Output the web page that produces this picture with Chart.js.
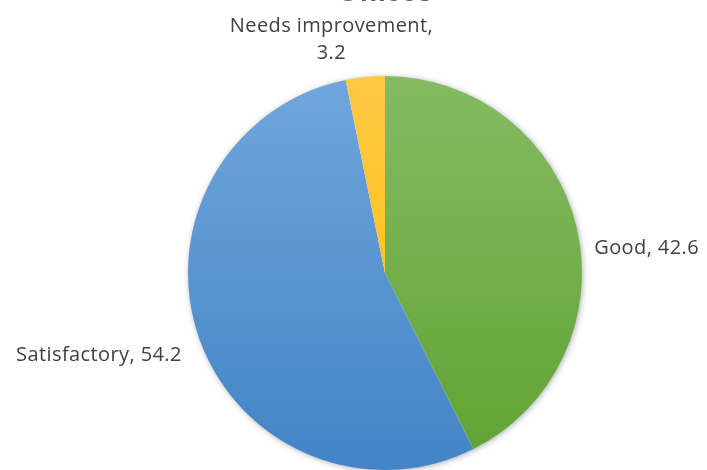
<!DOCTYPE html>
<html>
<head>
<meta charset="utf-8">
<script src="https://cdn.jsdelivr.net/npm/chart.js@4.4.1/dist/chart.umd.min.js"></script>
<style>
    html, body { margin: 0; padding: 0; background: #ffffff; overflow: hidden; }
    #wrap { position: relative; width: 707px; height: 470px; }
</style>
</head>
<body>
<div id="wrap"><canvas id="pieChart" width="707" height="470"></canvas></div>
<script>
// 数据
const categories = ['Good', 'Satisfactory', 'Needs improvement'];
const values = [42.6, 54.2, 3.2];
const chartTitle = 'Offices';

// 颜色（上 -> 下渐变）
const topColors = ['#84bb63', '#70a6dc', '#ffc845'];
const bottomColors = ['#62a232', '#4284c6', '#ffbf00'];

// 标签位置微调 (dx, dy)
const labelNudge = [[0, 25], [0, 12], [-32, 8]];

function sliceFill(context) {
    const chart = context.chart;
    const area = chart.chartArea;
    if (!area) return topColors[context.dataIndex];
    const g = chart.ctx.createLinearGradient(0, area.top, 0, area.bottom);
    g.addColorStop(0, topColors[context.dataIndex]);
    g.addColorStop(1, bottomColors[context.dataIndex]);
    return g;
}

// 阴影 + 标题 + 数据标签
const decorPlugin = {
    id: 'decor',
    beforeDatasetsDraw(chart) {
        const arc = chart.getDatasetMeta(0).data[0];
        if (!arc) return;
        const ctx = chart.ctx;
        ctx.save();
        ctx.shadowColor = 'rgba(0,0,0,0.35)';
        ctx.shadowBlur = 6;
        ctx.shadowOffsetX = 1;
        ctx.shadowOffsetY = 1;
        ctx.fillStyle = '#ffffff';
        ctx.beginPath();
        ctx.arc(arc.x, arc.y, arc.outerRadius - 0.5, 0, Math.PI * 2);
        ctx.fill();
        ctx.restore();
    },
    afterDatasetsDraw(chart) {
        const ctx = chart.ctx;
        const meta = chart.getDatasetMeta(0);
        ctx.save();
        // 标题（上部被裁切）
        const first = meta.data[0];
        ctx.fillStyle = '#595959';
        ctx.font = 'bold 28px "Liberation Sans", Arial, sans-serif';
        ctx.textAlign = 'center';
        ctx.textBaseline = 'alphabetic';
        ctx.fillText(chartTitle, first.x, 1);

        ctx.fillStyle = '#404040';
        ctx.font = '20px "Open Sans", sans-serif';
        ctx.letterSpacing = '0.4px';
        const lineH = 27;
        meta.data.forEach((el, i) => {
            const mid = (el.startAngle + el.endAngle) / 2;
            const r = el.outerRadius + 18;
            let x = el.x + Math.cos(mid) * r + labelNudge[i][0];
            let y = el.y + Math.sin(mid) * r + labelNudge[i][1];
            const c = Math.cos(mid);
            if (c > 0.3) {
                ctx.textAlign = 'left';
                ctx.textBaseline = 'middle';
                ctx.fillText(categories[i] + ', ' + values[i], x, y);
            } else if (c < -0.3) {
                ctx.textAlign = 'right';
                ctx.textBaseline = 'middle';
                ctx.fillText(categories[i] + ', ' + values[i], x, y);
            } else {
                ctx.textAlign = 'center';
                ctx.textBaseline = 'middle';
                ctx.fillText(categories[i] + ',', x, y - lineH * 1.5);
                ctx.fillText(String(values[i]), x, y - lineH * 0.5);
            }
        });
        ctx.restore();
    }
};

new Chart(document.getElementById('pieChart'), {
    type: 'pie',
    data: {
        labels: categories,
        datasets: [{
            data: values,
            backgroundColor: sliceFill,
            borderWidth: 0
        }]
    },
    options: {
        responsive: false,
        animation: false,
        layout: { padding: { top: 76, bottom: 0, left: 63, right: 0 } },
        plugins: {
            legend: { display: false },
            tooltip: { enabled: false },
            title: { display: false }
        }
    },
    plugins: [decorPlugin]
});
</script>
</body>
</html>
